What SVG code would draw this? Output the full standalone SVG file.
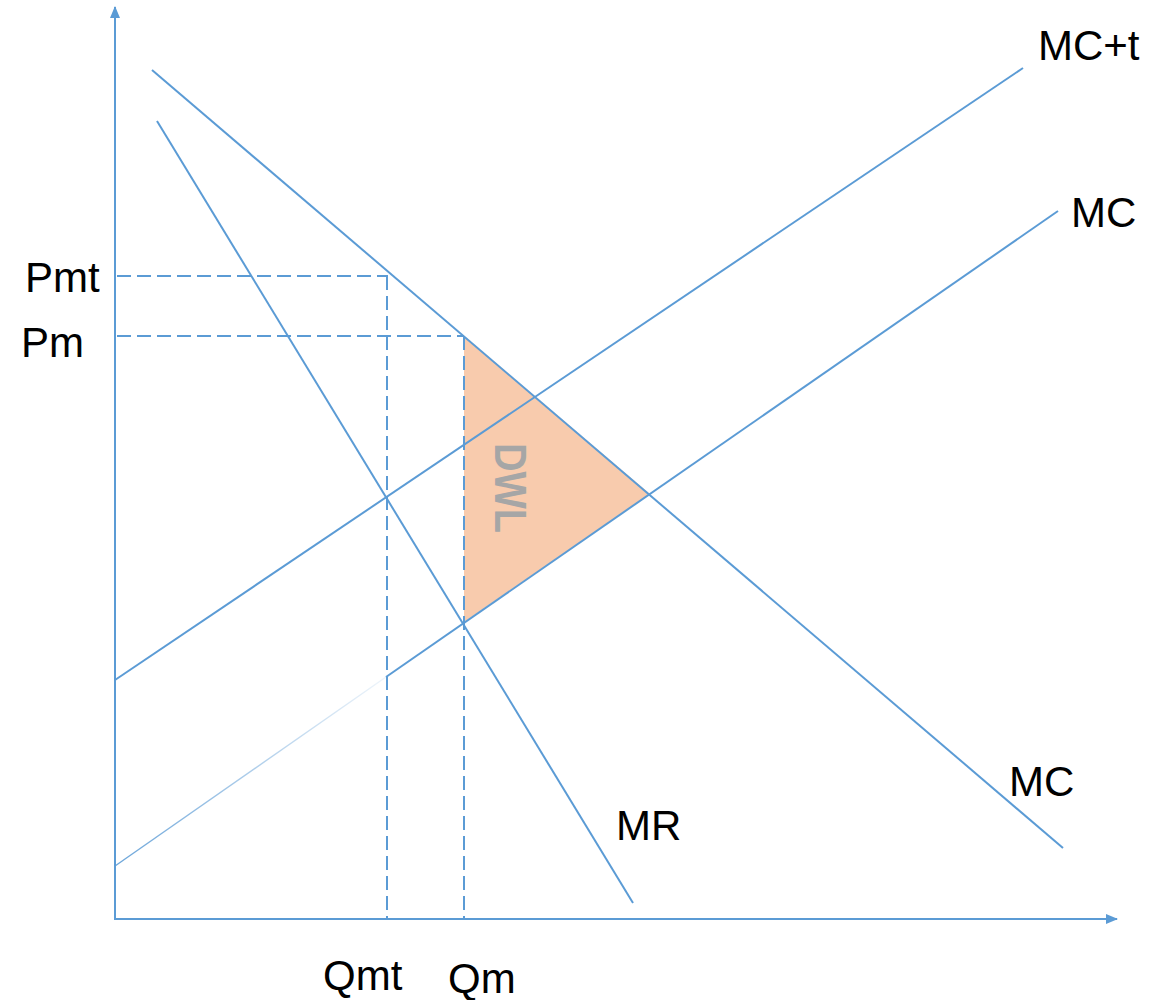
<svg xmlns="http://www.w3.org/2000/svg" width="1163" height="1000" viewBox="0 0 1163 1000">
<style>
.ln{stroke:#5b9bd5;stroke-width:2;fill:none}
.dash{stroke:#5b9bd5;stroke-width:2;fill:none;stroke-dasharray:14 6}
.lab{font-family:"Liberation Sans",Arial,sans-serif;font-size:42px;fill:#000}
</style>
<defs>
<marker id="ah" viewBox="0 0 12 10" refX="11" refY="5" markerWidth="12" markerHeight="10" markerUnits="userSpaceOnUse" orient="auto">
<path d="M0,0 L12,5 L0,10 z" fill="#5b9bd5"/>
</marker>
<linearGradient id="fade" gradientUnits="userSpaceOnUse" x1="115" y1="866" x2="386" y2="677">
<stop offset="0" stop-color="#5b9bd5" stop-opacity="0.9"/>
<stop offset="1" stop-color="#5b9bd5" stop-opacity="0.1"/>
</linearGradient>
</defs>
<rect width="1163" height="1000" fill="#fff"/>
<g id="dwl-area">
<polygon points="464,336 650,494 464,622" fill="#f8cbad"/>
<text transform="translate(495,443) rotate(90)" font-family="Liberation Sans,Arial,sans-serif" font-weight="bold" font-size="44" fill="#a6a6a6" textLength="90" lengthAdjust="spacingAndGlyphs">DWL</text>
</g>
<g id="axes">
<line class="ln" x1="115" y1="920" x2="115" y2="7" marker-end="url(#ah)"/>
<line class="ln" x1="115" y1="919" x2="1117" y2="919" marker-end="url(#ah)"/>
</g>
<g id="connectors">
<line class="dash" x1="117" y1="276" x2="388" y2="276"/>
<line class="dash" x1="387" y1="276" x2="387" y2="919"/>
<line class="dash" x1="117" y1="336" x2="464" y2="336"/>
<line class="dash" x1="464" y1="336" x2="464" y2="919"/>
</g>
<g id="curves">
<line id="demand" class="ln" x1="152" y1="70" x2="1063" y2="848"/>
<line id="mr" class="ln" x1="157" y1="121" x2="633" y2="903"/>
<line id="mct" class="ln" x1="115" y1="680" x2="1023" y2="68"/>
<line id="mc" class="ln" x1="386" y1="677" x2="1058" y2="211"/>
<line id="mc-low" x1="115" y1="866" x2="386" y2="677" stroke="url(#fade)" stroke-width="1.4"/>
</g>
<g id="labels">
<text class="lab" x="1038" y="60">MC+t</text>
<text class="lab" x="1071" y="227">MC</text>
<text class="lab" x="1009" y="796">MC</text>
<text class="lab" x="616" y="840">MR</text>
<text class="lab" x="25" y="292">Pmt</text>
<text class="lab" x="21" y="357">Pm</text>
<text class="lab" x="323" y="990">Qmt</text>
<text class="lab" x="448" y="993">Qm</text>
</g>
</svg>
